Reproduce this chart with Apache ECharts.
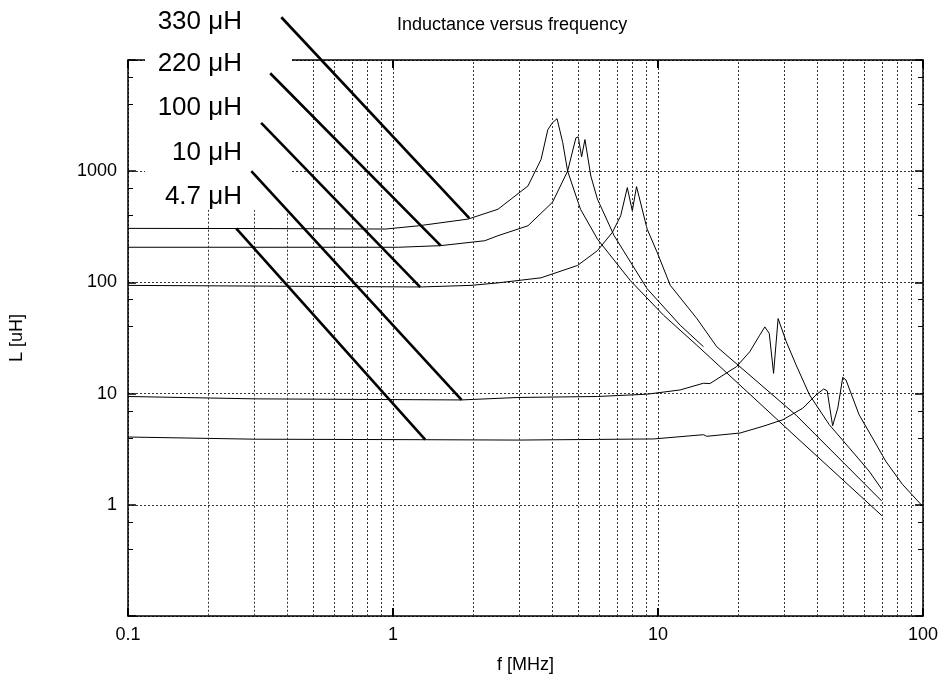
<!DOCTYPE html>
<html>
<head>
<meta charset="utf-8">
<title>Inductance versus frequency</title>
<script src="https://cdn.jsdelivr.net/npm/echarts@6/dist/echarts.min.js"></script>
<style>
    html, body { margin: 0; padding: 0; background: #fff; }
    #chart { width: 941px; height: 679px; }
</style>
</head>
<body>
<div id="chart"></div>
<script>
// f [MHz], L [uH]
var curve330 = [[0.1, 306], [0.3, 305], [0.94, 302], [1.25, 323], [1.92, 371], [2.49, 455], [3.23, 736], [3.62, 1275], [3.84, 2365], [4.0, 2733], [4.16, 2967], [4.37, 1809], [4.56, 1002], [5.1, 455], [5.91, 245], [7.86, 104], [10.5, 50.6], [14.0, 27.3], [33.2, 4.07], [69.9, 0.8]];
var curve220 = [[0.1, 207], [1.05, 207], [1.51, 214], [2.22, 237], [2.49, 263], [3.23, 323], [4.0, 526], [4.56, 1002], [4.9, 1993], [5.0, 2035], [5.15, 1348], [5.3, 1925], [5.58, 904], [5.91, 560], [6.83, 263], [9.1, 87.7], [12.13, 41.2], [14.85, 26.4]];
var curve100 = [[0.1, 94], [1.27, 91], [1.97, 94], [2.49, 99], [3.62, 110], [4.97, 142], [5.91, 193], [6.73, 282], [7.23, 397], [7.66, 712], [8.0, 440], [8.3, 727], [9.1, 302], [9.92, 187], [11.13, 94], [12.5, 66.6], [14.02, 47.3], [16.66, 26.4], [33.2, 6.4], [69.9, 1.08]];
var curve10 = [[0.1, 9.42], [0.3, 8.97], [1.81, 8.77], [2.96, 9.23], [5.91, 9.42], [9.1, 9.88], [12.13, 10.79], [14.85, 12.4], [15.7, 12.3], [19.8, 17.5], [22.2, 23.8], [24.2, 33.5], [25.3, 39.8], [26.3, 34.7], [27.3, 15.2], [28.4, 47.3], [30.5, 29.2], [33.2, 18.1], [37.3, 9.74], [44.3, 5.25], [52.7, 3.25], [62.6, 2.01], [69.9, 1.38]];
var curve4_7 = [[0.1, 4.07], [0.3, 3.89], [1.27, 3.85], [2.96, 3.82], [9.64, 3.91], [14.85, 4.27], [15.28, 4.13], [20.4, 4.42], [24.9, 5.08], [29.6, 5.82], [35.2, 7.4], [39.5, 9.74], [42.2, 11.0], [43.5, 10.6], [45.6, 5.14], [47.7, 7.4], [49.8, 14.0], [51.2, 13.3], [57.4, 6.45], [64.5, 3.99], [72.3, 2.47], [83.6, 1.53], [99.3, 0.98]];

// label pointers: from the label to the curve
var pointer330 = [[0.379, 24240], [1.94, 378]];
var pointer220 = [[0.344, 7603], [1.514, 214]];
var pointer100 = [[0.318, 2716], [1.267, 90.8]];
var pointer10 = [[0.292, 1002], [1.815, 8.77]];
var pointer4_7 = [[0.256, 306], [1.323, 3.85]];

var curveLabels = ['330 μH', '220 μH', '100 μH', '10 μH', '4.7 μH'];
var xTickLabels = [0.1, 1, 10, 100];
var yTickLabels = [1, 10, 100, 1000];
var minorFreqs = [0.2, 0.3, 0.4, 0.5, 0.6, 0.7, 0.8, 0.9, 2, 3, 4, 5, 6, 7, 8, 9, 20, 30, 40, 50, 60, 70, 80, 90];
// grid lines left of 0.45 MHz stop under the label block, at about L = 450
var labelBlockFloor = 450;

var FONT = '"Liberation Sans", Arial, Helvetica, sans-serif';

function initInductanceChart(domId) {
    var dom = document.getElementById(domId);
    var myChart = echarts.init(dom);

    var dotted = { color: '#333', width: 1, type: [2, 2] };

    function curve(name, data) {
        return {
            name: name, type: 'line', data: data,
            symbol: 'none', silent: true, z: 3,
            lineStyle: { color: '#000', width: 1 }
        };
    }
    function pointer(data) {
        return {
            type: 'line', data: data, symbol: 'none', silent: true,
            clip: false, z: 20,
            lineStyle: { color: '#000', width: 2.6 }
        };
    }

    var gridSeries = curve('4.7 μH', curve4_7);
    gridSeries.markLine = {
        silent: true, symbol: 'none', animation: false,
        label: { show: false },
        lineStyle: dotted,
        data: minorFreqs.map(function (v) {
            if (v < 0.45) {
                return [{ coord: [v, labelBlockFloor] }, { coord: [v, 0.1] }];
            }
            return { xAxis: v };
        })
    };

    function xAxisOf(pos, labels) {
        return {
            type: 'log', logBase: 10, min: 0.1, max: 100, position: pos,
            name: labels ? 'f [MHz]' : '',
            nameLocation: 'middle', nameGap: 40,
            nameTextStyle: { fontSize: 18, color: '#000', fontFamily: FONT },
            axisLine: { onZero: false, lineStyle: { color: '#000', width: 1.5 } },
            axisTick: { inside: true, length: 8, lineStyle: { color: '#000', width: 2 } },
            axisLabel: {
                show: labels, fontSize: 18, color: '#000', margin: 10, fontFamily: FONT,
                formatter: function (v) {
                    for (var i = 0; i < xTickLabels.length; i++) {
                        if (Math.abs(Math.log10(v / xTickLabels[i])) < 0.01) return String(xTickLabels[i]);
                    }
                    return '';
                }
            },
            splitLine: { show: labels, lineStyle: dotted }
        };
    }
    function yAxisOf(pos, labels) {
        return {
            type: 'log', logBase: 10, min: 0.1, max: 10000, position: pos,
            name: labels ? 'L [uH]' : '',
            nameLocation: 'middle', nameGap: 102,
            nameTextStyle: { fontSize: 18, color: '#000', fontFamily: FONT },
            axisLine: { onZero: false, lineStyle: { color: '#000', width: 1.5 } },
            axisTick: { inside: true, length: 8, lineStyle: { color: '#000', width: 1.5 } },
            minorTick: { show: true, splitNumber: 3, length: 5, lineStyle: { color: '#000', width: 1 } },
            axisLabel: {
                show: labels, fontSize: 18, color: '#000', margin: 11, fontFamily: FONT,
                formatter: function (v) {
                    for (var i = 0; i < yTickLabels.length; i++) {
                        if (Math.abs(Math.log10(v / yTickLabels[i])) < 0.01) return String(yTickLabels[i]);
                    }
                    return '';
                }
            },
            splitLine: { show: labels, lineStyle: dotted }
        };
    }

    var labelY = [22, 64, 108, 153, 197];
    var texts = curveLabels.map(function (t, i) {
        return {
            type: 'text', x: 242, y: labelY[i], z: 30, silent: true,
            style: {
                text: t, font: '26px ' + FONT, fill: '#000',
                align: 'right', verticalAlign: 'middle',
                textAlign: 'right', textVerticalAlign: 'middle'
            }
        };
    });

    myChart.setOption({
        animation: false,
        backgroundColor: '#fff',
        title: {
            text: 'Inductance versus frequency',
            left: 397, top: 16, padding: 0,
            textStyle: { fontSize: 18, fontWeight: 'normal', color: '#000', fontFamily: FONT }
        },
        grid: { left: 128, right: 14, top: 60, bottom: 60 },
        xAxis: [xAxisOf('bottom', true), xAxisOf('top', false)],
        yAxis: [yAxisOf('left', true), yAxisOf('right', false)],
        graphic: [{
            type: 'rect', z: 10, silent: true,
            shape: { x: 145, y: 38, width: 147, height: 172 },
            style: { fill: '#fff' }
        }].concat(texts),
        series: [
            curve('330 μH', curve330),
            curve('220 μH', curve220),
            curve('100 μH', curve100),
            curve('10 μH', curve10),
            gridSeries,
            pointer(pointer330),
            pointer(pointer220),
            pointer(pointer100),
            pointer(pointer10),
            pointer(pointer4_7)
        ]
    });
    window.addEventListener('resize', function () {
        myChart.resize();
    });
    return myChart;
}

initInductanceChart('chart');
</script>
</body>
</html>
